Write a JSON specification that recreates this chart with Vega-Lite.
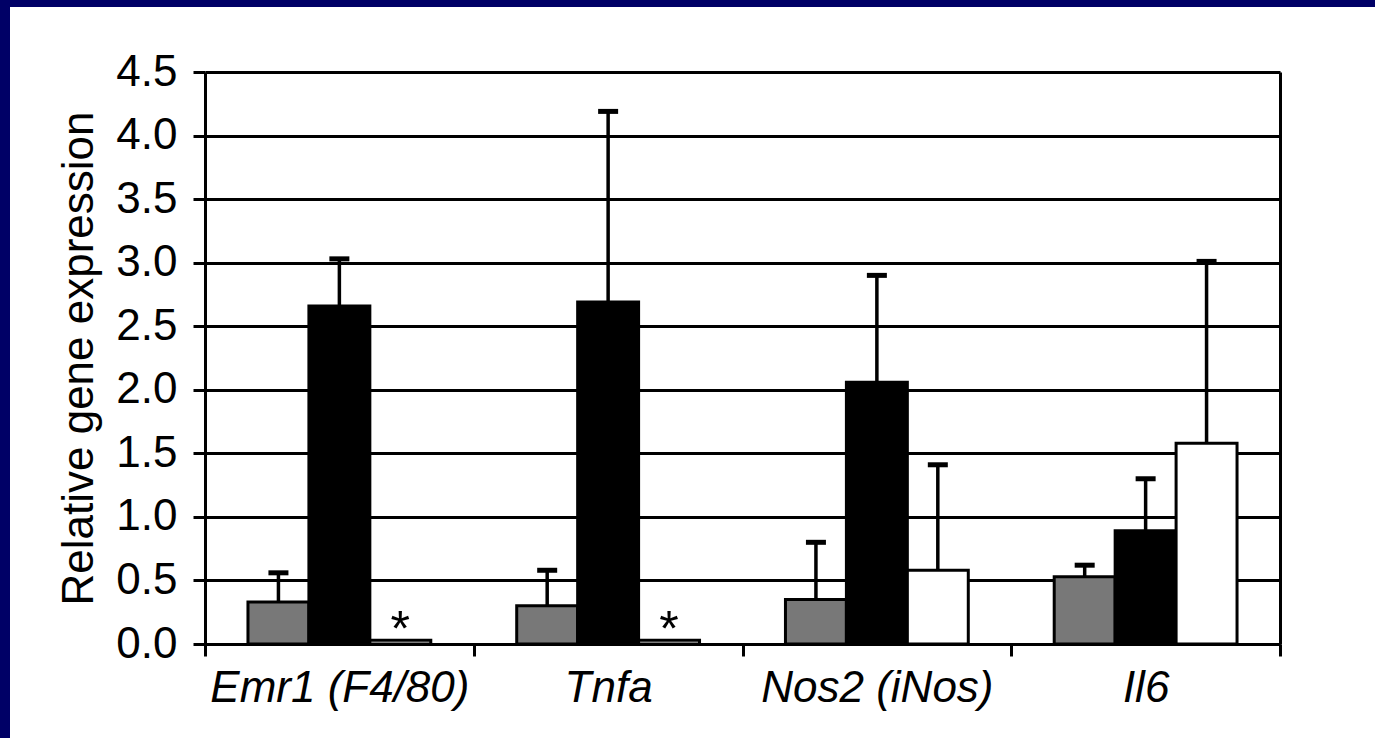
{
  "$schema": "https://vega.github.io/schema/vega-lite/v6.json",
  "width": 1365,
  "height": 731,
  "autosize": {"type": "none"},
  "padding": {"left": 10, "top": 7, "right": 0, "bottom": 0},
  "background": "#000066",
  "config": {
    "view": {"fill": "white", "stroke": null},
    "font": "Liberation Sans"
  },
  "data": {
    "values": [
      {"gene": "Emr1 (F4/80)", "group": "Group 1", "value": 0.33, "upper": 0.56, "sig": ""},
      {"gene": "Emr1 (F4/80)", "group": "Group 2", "value": 2.66, "upper": 3.03, "sig": ""},
      {"gene": "Emr1 (F4/80)", "group": "Group 3", "value": 0.03, "upper": null, "sig": "*"},
      {"gene": "Tnfa", "group": "Group 1", "value": 0.30, "upper": 0.58, "sig": ""},
      {"gene": "Tnfa", "group": "Group 2", "value": 2.69, "upper": 4.19, "sig": ""},
      {"gene": "Tnfa", "group": "Group 3", "value": 0.03, "upper": null, "sig": "*"},
      {"gene": "Nos2 (iNos)", "group": "Group 1", "value": 0.35, "upper": 0.80, "sig": ""},
      {"gene": "Nos2 (iNos)", "group": "Group 2", "value": 2.06, "upper": 2.90, "sig": ""},
      {"gene": "Nos2 (iNos)", "group": "Group 3", "value": 0.58, "upper": 1.41, "sig": ""},
      {"gene": "Il6", "group": "Group 1", "value": 0.53, "upper": 0.62, "sig": ""},
      {"gene": "Il6", "group": "Group 2", "value": 0.89, "upper": 1.30, "sig": ""},
      {"gene": "Il6", "group": "Group 3", "value": 1.58, "upper": 3.01, "sig": ""}
    ]
  },
  "encoding": {
    "x": {
      "field": "gene",
      "type": "nominal",
      "sort": ["Emr1 (F4/80)", "Tnfa", "Nos2 (iNos)", "Il6"],
      "scale": {"range": [195, 1270], "paddingInner": 0, "paddingOuter": 0},
      "axis": {
        "orient": "bottom",
        "offset": -94,
        "title": null,
        "labelAngle": 0,
        "labelFontSize": 44,
        "labelFontStyle": "italic",
        "labelColor": "black",
        "labelPadding": 10,
        "labelLimit": 0,
        "labelOverlap": false,
        "tickBand": "extent",
        "tickSize": 12,
        "tickWidth": 3,
        "tickColor": "black",
        "domainColor": "black",
        "domainWidth": 3,
        "grid": false
      }
    },
    "xOffset": {
      "field": "group",
      "type": "nominal",
      "sort": ["Group 1", "Group 2", "Group 3"],
      "scale": {"paddingInner": 0, "paddingOuter": 0.705}
    }
  },
  "layer": [
    {
      "mark": {"type": "bar", "stroke": "black", "strokeWidth": 3},
      "encoding": {
        "y": {
          "field": "value",
          "type": "quantitative",
          "scale": {"domain": [0, 4.5], "range": [637, 65], "nice": false, "zero": true},
          "axis": {
            "orient": "left",
            "offset": -195,
            "values": [0, 0.5, 1, 1.5, 2, 2.5, 3, 3.5, 4, 4.5],
            "format": ".1f",
            "labelFontSize": 44,
            "labelColor": "black",
            "labelPadding": 16,
            "tickSize": 12,
            "tickWidth": 3,
            "tickColor": "black",
            "domainColor": "black",
            "domainWidth": 3,
            "grid": true,
            "gridColor": "black",
            "gridWidth": 3,
            "gridOpacity": 1,
            "title": "Relative gene expression",
            "titleFontSize": 44,
            "titleFontWeight": "normal",
            "titleColor": "black",
            "titlePadding": 14
          }
        },
        "fill": {
          "field": "group",
          "type": "nominal",
          "scale": {"domain": ["Group 1", "Group 2", "Group 3"], "range": ["#787878", "#000000", "#ffffff"]},
          "legend": null
        }
      }
    },
    {
      "transform": [{"filter": "datum.upper != null"}],
      "mark": {"type": "rule", "color": "black", "strokeWidth": 3.5},
      "encoding": {
        "y": {
          "field": "value",
          "type": "quantitative",
          "scale": {"domain": [0, 4.5], "range": [637, 65], "nice": false, "zero": true},
          "axis": {
            "orient": "right",
            "offset": -95,
            "labels": false,
            "ticks": false,
            "grid": false,
            "title": null,
            "domainColor": "black",
            "domainWidth": 3
          }
        },
        "y2": {"field": "upper"}
      }
    },
    {
      "transform": [{"filter": "datum.upper != null"}],
      "mark": {"type": "tick", "color": "black", "size": 20, "thickness": 5, "opacity": 1},
      "encoding": {
        "y": {
          "field": "upper",
          "type": "quantitative",
          "scale": {"domain": [0, 4.5], "range": [637, 65], "nice": false, "zero": true},
          "axis": null
        }
      }
    },
    {
      "transform": [{"filter": "datum.sig == '*'"}],
      "mark": {"type": "text", "fontSize": 50, "color": "black", "baseline": "alphabetic", "dy": 6},
      "encoding": {
        "y": {
          "field": "value",
          "type": "quantitative",
          "scale": {"domain": [0, 4.5], "range": [637, 65], "nice": false, "zero": true},
          "axis": null
        },
        "text": {"field": "sig"}
      }
    }
  ],
  "resolve": {"axis": {"y": "independent"}}
}
